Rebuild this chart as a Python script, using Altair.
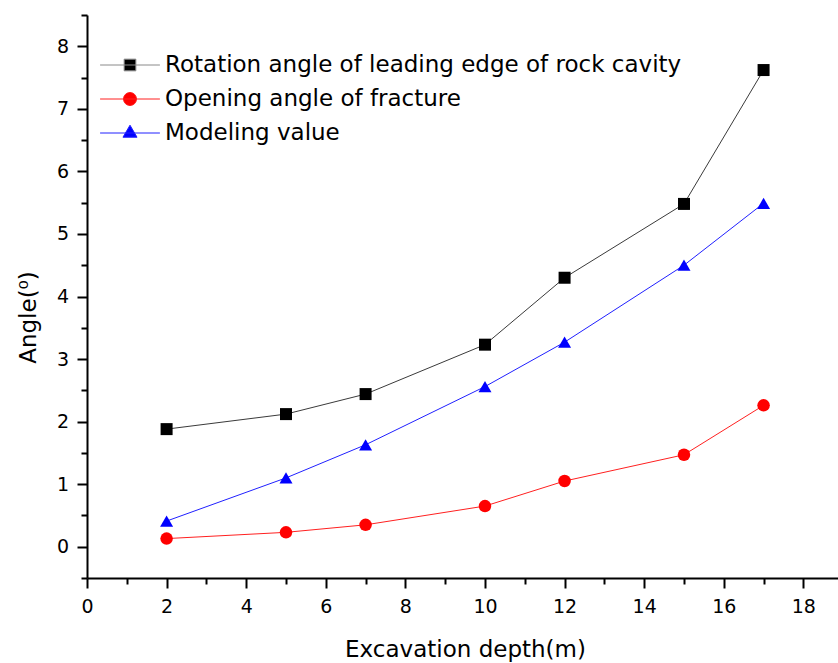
import altair as alt
import pandas as pd

# ---- data ----
depth = [2, 5, 7, 10, 12, 15, 17]
rotation_angle = [1.88, 2.12, 2.44, 3.23, 4.30, 5.48, 7.62]
opening_angle = [0.13, 0.23, 0.35, 0.65, 1.05, 1.47, 2.26]
modeling_value = [0.41, 1.10, 1.63, 2.56, 3.27, 4.50, 5.49]

series_names = [
    "Rotation angle of leading edge of rock cavity",
    "Opening angle of fracture",
    "Modeling value",
]
x_major = [0, 2, 4, 6, 8, 10, 12, 14, 16, 18]
x_minor = [1, 3, 5, 7, 9, 11, 13, 15, 17]
y_major = [0, 1, 2, 3, 4, 5, 6, 7, 8]
y_minor = [-0.5, 0.5, 1.5, 2.5, 3.5, 4.5, 5.5, 6.5, 7.5, 8.5]

rows = []
for name, vals in zip(series_names, [rotation_angle, opening_angle, modeling_value]):
    for d, v in zip(depth, vals):
        rows.append({"depth": d, "angle": v, "series": name})
df = pd.DataFrame(rows)

# ---- styling ----
FONT = "DejaVu Sans"
marker_colors = ["#000000", "#ff0000", "#0000ff"]
line_colors = ["#3a3a3a", "#ff2020", "#2020ff"]
legend_line_colors = ["#8a8a8a", "#ff2020", "#2020ff"]
marker_shapes = ["square", "circle", "triangle-up"]
marker_sizes = [144, 169, 196]
legend_paths = [
    "M-4.6,0H4.6M-0.9,-0.9H0.9V0.9H-0.9Z",
    "M-4.6,0H4.6M-1,0A1,1 0 1,0 1,0A1,1 0 1,0 -1,0Z",
    "M-4.6,0H4.6M0,-1.2L1.08,0.65H-1.08Z",
]

xs = alt.Scale(domain=[0, 18.87], nice=False, zero=False)
ys = alt.Scale(domain=[-0.5, 8.5], nice=False, zero=False)

x_axis = alt.Axis(
    orient="bottom", values=x_major, grid=False,
    tickSize=10, tickWidth=2, tickColor="black",
    domainColor="black", domainWidth=2,
    labelFont=FONT, labelFontSize=19, labelColor="black",
    labelBaseline="alphabetic", labelPadding=24.5, labelFlush=False, labelOverlap=False,
    title="Excavation depth(m)", titleFont=FONT, titleFontSize=23,
    titleFontWeight="normal", titleColor="black",
    titleX=378, titleY=78, titleBaseline="alphabetic", titleAlign="center",
)
y_axis = alt.Axis(
    orient="left", values=y_major, grid=False,
    tickSize=10, tickWidth=2, tickColor="black",
    domainColor="black", domainWidth=2,
    labelFont=FONT, labelFontSize=19, labelColor="black",
    labelPadding=8.5, labelFlush=False, labelOverlap=False,
    title="Angle(⁰)", titleFont=FONT, titleFontSize=23,
    titleFontWeight="normal", titleColor="black", titleAngle=270,
    titleX=-52, titleY=302, titleBaseline="alphabetic", titleAlign="center",
)
x_minor_axis = alt.Axis(
    orient="bottom", values=x_minor, grid=False, labels=False, domain=False,
    tickSize=6, tickWidth=2, tickColor="black", title=None,
)
y_minor_axis = alt.Axis(
    orient="left", values=y_minor, grid=False, labels=False, domain=False,
    tickSize=6, tickWidth=2, tickColor="black", title=None,
)

legend = alt.Legend(
    title=None, orient="none", legendX=31.5, legendY=38.5, padding=0,
    symbolSize=169, symbolStrokeWidth=1, symbolOpacity=1,
    labelFont=FONT, labelFontSize=23, labelColor="black",
    labelOffset=23.5, rowPadding=10, labelLimit=1000,
)

X = alt.X("depth:Q", scale=xs, axis=x_axis)
Y = alt.Y("angle:Q", scale=ys, axis=y_axis)

lines = alt.Chart(df).mark_line(strokeWidth=1).encode(
    x=X, y=Y,
    color=alt.Color("series:N", scale=alt.Scale(domain=series_names, range=line_colors), legend=None),
)

points = alt.Chart(df).mark_point(filled=True, opacity=1).encode(
    x=X, y=Y,
    fill=alt.Fill("series:N", scale=alt.Scale(domain=series_names, range=marker_colors), legend=None),
    shape=alt.Shape("series:N", scale=alt.Scale(domain=series_names, range=marker_shapes), legend=None),
    size=alt.Size("series:N", scale=alt.Scale(domain=series_names, range=marker_sizes), legend=None),
)

legend_layer = alt.Chart(df).transform_filter("false").mark_point(filled=True, opacity=1).encode(
    fill=alt.Fill("series:N", scale=alt.Scale(domain=series_names, range=marker_colors), legend=legend),
    stroke=alt.Stroke("series:N", scale=alt.Scale(domain=series_names, range=legend_line_colors), legend=legend),
    shape=alt.Shape("series:N", scale=alt.Scale(domain=series_names, range=legend_paths), legend=legend),
)

main = alt.layer(lines, points, legend_layer).resolve_scale(
    color="independent", fill="independent", stroke="independent",
    shape="independent", size="independent",
)

minor = alt.Chart(df).mark_point(opacity=0).encode(
    x=alt.X("depth:Q", scale=xs, axis=x_minor_axis),
    y=alt.Y("angle:Q", scale=ys, axis=y_minor_axis),
)

chart = (
    alt.layer(main, minor)
    .resolve_scale(x="independent", y="independent")
    .resolve_axis(x="independent", y="independent")
    .properties(
        width=751, height=563,
        padding={"left": 87, "top": 15, "right": 0, "bottom": 85},
        autosize=alt.AutoSizeParams(type="none"),
        background="white",
    )
    .configure_view(stroke=None)
)

chart.save("out.html", embed_options={"renderer": "svg", "actions": False})
